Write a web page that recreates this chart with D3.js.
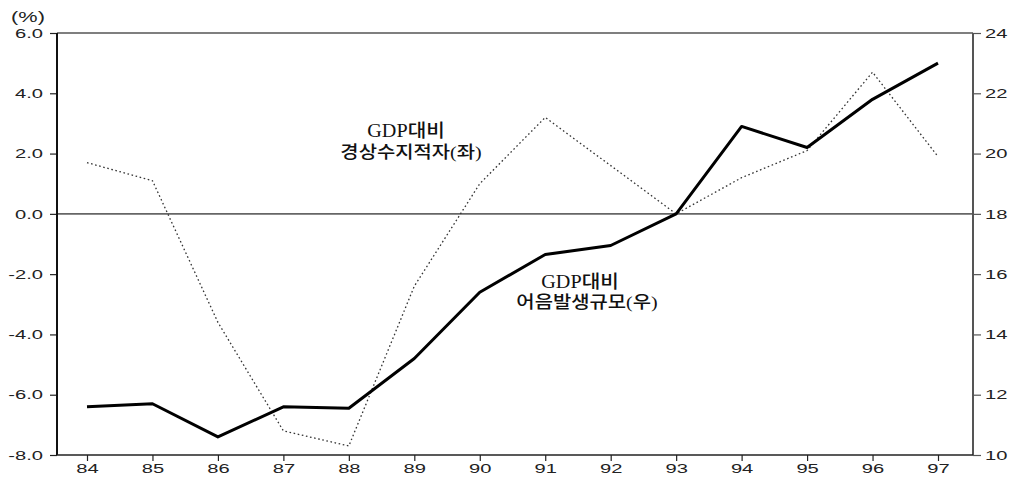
<!DOCTYPE html>
<html><head><meta charset="utf-8">
<script src="https://cdn.jsdelivr.net/npm/d3@7"></script>
<style>html,body{margin:0;padding:0;background:#fff;}svg{display:block;}</style>
</head><body>
<svg id="c" width="1016" height="479"></svg>
<script>
const years = ["84","85","86","87","88","89","90","91","92","93","94","95","96","97"];
// GDP대비 경상수지적자 (좌, %)
const currentAccount = [1.7, 1.1, -3.6, -7.2, -7.7, -2.4, 1.0, 3.2, 1.6, 0.0, 1.2, 2.1, 4.7, 1.9];
// GDP대비 어음발생규모 (우)
const billIssuance = [11.6, 11.7, 10.6, 11.6, 11.55, 13.2, 15.4, 16.65, 16.95, 18.0, 20.9, 20.2, 21.8, 23.0];
const leftTicks = [-8, -6, -4, -2, 0, 2, 4, 6];
const leftTickLabels = ["-8.0", "-6.0", "-4.0", "-2.0", "0.0", "2.0", "4.0", "6.0"];
const rightTicks = [10, 12, 14, 16, 18, 20, 22, 24];
const rightTickLabels = ["10", "12", "14", "16", "18", "20", "22", "24"];

const svg = d3.select("#c");
const L = 57, R = 973, T = 33, B = 455;
const x = d3.scalePoint().domain(years).range([87, 938]).padding(0);
const yL = d3.scaleLinear().domain([-8, 6]).range([B, T]);
const yR = d3.scaleLinear().domain([10, 24]).range([B, T]);
const SX = 1.55;
const tickFont = "'Liberation Sans', Arial, sans-serif";
const tickSize = 13;

// frame lines
svg.append("line").attr("x1", L).attr("x2", R).attr("y1", T).attr("y2", T).attr("stroke", "#000").attr("stroke-width", 1.2);
svg.append("line").attr("x1", L).attr("x2", R).attr("y1", yL(0)).attr("y2", yL(0)).attr("stroke", "#666").attr("stroke-width", 1.6);

// left axis
const gL = svg.append("g").attr("transform", `translate(${L},0)`)
  .call(d3.axisLeft(yL).tickValues(leftTicks).tickFormat((d, i) => leftTickLabels[i]).tickSize(7).tickSizeOuter(0).tickPadding(7));
gL.select(".domain").remove();
gL.selectAll(".tick line").attr("stroke", "#222").attr("stroke-width", 1.2);
gL.selectAll(".tick text").each(function () {
  const t = d3.select(this); const xx = +t.attr("x");
  t.attr("x", 0).attr("transform", `translate(${xx},0) scale(${SX},1)`);
}).attr("font-family", tickFont).attr("font-size", tickSize).attr("fill", "#222");
svg.append("line").attr("x1", L).attr("x2", L).attr("y1", T).attr("y2", B).attr("stroke", "#111").attr("stroke-width", 2);

// right axis
const gR = svg.append("g").attr("transform", `translate(${R},0)`)
  .call(d3.axisRight(yR).tickValues(rightTicks).tickFormat((d, i) => rightTickLabels[i]).tickSize(8).tickSizeOuter(0).tickPadding(4));
gR.select(".domain").remove();
gR.selectAll(".tick line").attr("stroke", "#555").attr("stroke-width", 1.2);
gR.selectAll(".tick text").each(function () {
  const t = d3.select(this); const xx = +t.attr("x");
  t.attr("x", 0).attr("transform", `translate(${xx},0) scale(${SX},1)`);
}).attr("font-family", tickFont).attr("font-size", tickSize).attr("fill", "#222");
svg.append("line").attr("x1", R).attr("x2", R).attr("y1", T).attr("y2", B).attr("stroke", "#555").attr("stroke-width", 2);

// bottom axis
const gB = svg.append("g").attr("transform", `translate(0,${B})`)
  .call(d3.axisBottom(x).tickSize(6).tickSizeOuter(0).tickPadding(3));
gB.select(".domain").remove();
gB.selectAll(".tick line").attr("stroke", "#222").attr("stroke-width", 1.2);
gB.selectAll(".tick text").each(function () {
  const t = d3.select(this); const yy = +t.attr("y");
  t.attr("y", 0).attr("transform", `translate(0,${yy}) scale(${SX},1)`);
}).attr("font-family", tickFont).attr("font-size", tickSize).attr("fill", "#222");
svg.append("line").attr("x1", L).attr("x2", R).attr("y1", B).attr("y2", B).attr("stroke", "#222").attr("stroke-width", 1.5);

// (%) unit
svg.append("text").attr("transform", `translate(28,22) scale(1.5,1)`).attr("text-anchor", "middle")
  .attr("font-family", tickFont).attr("font-size", 14.5).attr("fill", "#222").text("(%)");

// dotted series (left)
svg.append("path").datum(currentAccount)
  .attr("fill", "none").attr("stroke", "#333").attr("stroke-width", 1.3).attr("stroke-dasharray", "1.6,2.6")
  .attr("d", d3.line().x((d, i) => x(years[i])).y(d => yL(d)));

// solid series (right)
svg.append("path").datum(billIssuance)
  .attr("fill", "none").attr("stroke", "#000").attr("stroke-width", 3).attr("stroke-linejoin", "round")
  .attr("d", d3.line().x((d, i) => x(years[i])).y(d => yR(d)));

// annotations
const annFont = "'Liberation Serif', 'Noto Sans CJK KR', serif";
function ann(cx, cy, txt, size, sx, w) {
  svg.append("text").attr("transform", `translate(${cx},${cy}) scale(${sx},1)`).attr("text-anchor", "middle")
    .attr("font-family", annFont).attr("font-size", size).attr("font-weight", w).attr("fill", "#111").text(txt);
}
ann(406, 137, "GDP대비", 18, 1.12, 500);
ann(411, 158, "경상수지적자(좌)", 17, 1.17, 500);
ann(580, 288, "GDP대비", 18, 1.12, 500);
ann(587, 308, "어음발생규모(우)", 17, 1.17, 500);
</script>
</body></html>
